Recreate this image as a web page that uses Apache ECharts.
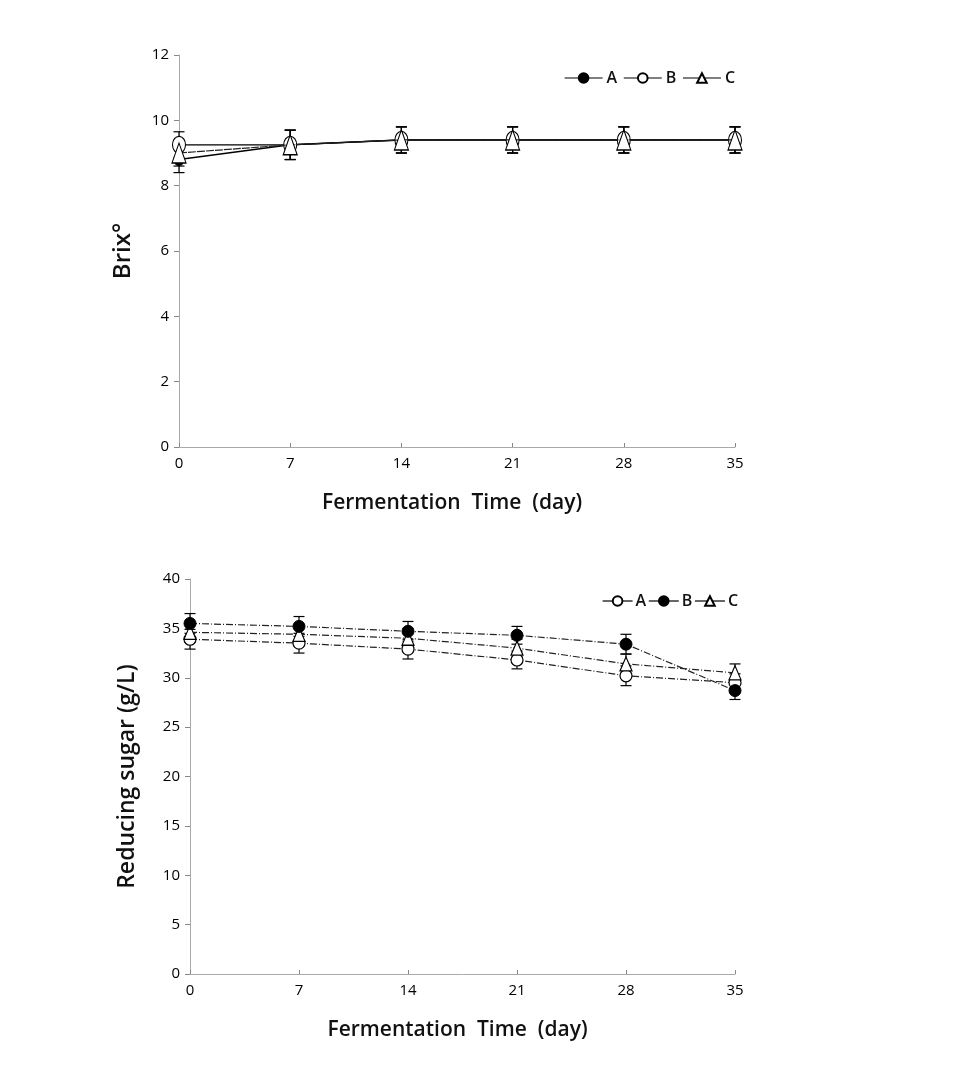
<!DOCTYPE html>
<html><head><meta charset="utf-8">
<script src="https://cdn.jsdelivr.net/npm/echarts@6/dist/echarts.min.js"></script>
<style>html,body{margin:0;padding:0;background:#fff;}#c1,#c2{position:absolute;left:0;width:960px;height:539px;}#c1{top:0}#c2{top:539px}</style>
</head><body><div id="c1"></div><div id="c2"></div>
<script>
const days = [0, 7, 14, 21, 28, 35];
const xTicks = [0, 7, 14, 21, 28, 35];
// Brix chart
const brixA = [8.8, 9.25, 9.4, 9.4, 9.4, 9.4];
const brixB = [9.25, 9.25, 9.4, 9.4, 9.4, 9.4];
const brixC = [9.0, 9.25, 9.4, 9.4, 9.4, 9.4];
const brixErr = [0.4, 0.45, 0.4, 0.4, 0.4, 0.4];
// Reducing sugar chart
const sugarA = [33.9, 33.5, 32.9, 31.8, 30.2, 29.5];
const sugarB = [35.5, 35.2, 34.7, 34.3, 33.4, 28.7];
const sugarC = [34.6, 34.4, 34.0, 33.0, 31.4, 30.5];
const sugarErr = [1.0, 1.0, 1.0, 0.9, 1.0, 0.9];

const FONT = '"Open Sans", "Noto Sans", sans-serif';

function pairs(vals){ return days.map((d,i)=>[d, vals[i]]); }
function errData(vals, err){ return days.map((d,i)=>[d, vals[i]-err[i], vals[i]+err[i]]); }
function errSeries(vals, err){
  return {
    type: 'custom', silent: true, z: 1,
    data: errData(vals, err),
    encode: {x: 0, y: [1, 2]},
    renderItem: function(params, api){
      const x = api.value(0);
      const lo = api.coord([x, api.value(1)]);
      const hi = api.coord([x, api.value(2)]);
      const w = 5.5;
      const st = {stroke: '#000', lineWidth: 1.2};
      return {type: 'group', children: [
        {type: 'line', shape: {x1: lo[0], y1: lo[1], x2: hi[0], y2: hi[1]}, style: st},
        {type: 'line', shape: {x1: lo[0]-w, y1: lo[1], x2: lo[0]+w, y2: lo[1]}, style: st},
        {type: 'line', shape: {x1: hi[0]-w, y1: hi[1], x2: hi[0]+w, y2: hi[1]}, style: st}
      ]};
    }
  };
}
function xAxis(){
  return {
    type: 'value', min: 0, max: 35, interval: 7,
    name: 'Fermentation  Time  (day)', nameLocation: 'middle', nameGap: 46,
    nameTextStyle: {fontFamily: FONT, fontSize: 21, fontWeight: 600, color: '#111', padding: [0, 10, 0, 0]},
    axisLine: {lineStyle: {color: '#aaa', width: 1}},
    axisTick: {inside: true, length: 4, lineStyle: {color: '#888'}},
    axisLabel: {color: '#000', fontFamily: FONT, fontSize: 15, margin: 9,
      formatter: v => xTicks.includes(v) ? String(v) : ''},
    splitLine: {show: false}
  };
}
function yAxis(name, max, interval, gap, nsize){
  return {
    type: 'value', min: 0, max: max, interval: interval,
    name: name, nameLocation: 'middle', nameGap: gap,
    nameTextStyle: {fontFamily: FONT, fontSize: nsize, fontWeight: 600, color: '#111'},
    axisLine: {show: true, lineStyle: {color: '#aaa', width: 1}},
    axisTick: {show: true, inside: false, length: 5, lineStyle: {color: '#888'}},
    axisLabel: {color: '#000', fontFamily: FONT, fontSize: 15, margin: 10},
    splitLine: {show: false}
  };
}
const filled = {color: '#000', borderColor: '#000', borderWidth: 1};
const open = {color: '#fff', borderColor: '#000', borderWidth: 1.2};
const legendText = {fontFamily: FONT, fontSize: 16, fontWeight: 600, color: '#111'};

const c1 = echarts.init(document.getElementById('c1'));
c1.setOption({
  animation: false,
  grid: {left: 179, top: 55, width: 556, height: 392},
  legend: {left: 559, top: 65, itemGap: 6, itemWidth: 38, itemHeight: 12,
    lineStyle: {type: 'solid', width: 1.2, color: '#000'},
    textStyle: Object.assign({padding: [0, 0, 0, -1]}, legendText),
    data: ['A', 'B', 'C']},
  xAxis: xAxis(),
  yAxis: yAxis('Brix°', 12, 2, 44, 24),
  series: [
    errSeries(brixB, brixErr),
    errSeries(brixA, brixErr),
    errSeries(brixC, brixErr),
    {name: 'A', type: 'line', data: pairs(brixA), symbol: 'circle', symbolSize: [10, 12],
      itemStyle: filled, lineStyle: {color: '#000', width: 1.5}, z: 3},
    {name: 'B', type: 'line', data: pairs(brixB), symbol: 'circle', symbolSize: [13, 17],
      itemStyle: open, lineStyle: {color: '#000', width: 1.2}, z: 4},
    {name: 'C', type: 'line', data: pairs(brixC), symbol: 'triangle', symbolSize: [14, 20],
      itemStyle: open, lineStyle: {color: '#222', width: 1.2, type: [8, 1]}, z: 5}
  ]
});

const c2 = echarts.init(document.getElementById('c2'));
c2.setOption({
  animation: false,
  grid: {left: 190, top: 40, width: 545, height: 395},
  legend: {left: 597, top: 49, itemGap: 2, itemWidth: 30, itemHeight: 12,
    lineStyle: {type: 'solid', width: 1.2, color: '#000'},
    textStyle: Object.assign({padding: [0, 0, 0, -2]}, legendText),
    data: ['A', 'B', 'C']},
  xAxis: xAxis(),
  yAxis: yAxis('Reducing sugar (g/L)', 40, 5, 51, 23),
  series: [
    errSeries(sugarA, sugarErr),
    errSeries(sugarB, sugarErr),
    errSeries(sugarC, sugarErr),
    {name: 'A', type: 'line', data: pairs(sugarA), symbol: 'circle', symbolSize: 12,
      itemStyle: open, lineStyle: {color: '#222', width: 1.2, type: [7, 2, 1, 2]}, z: 3},
    {name: 'B', type: 'line', data: pairs(sugarB), symbol: 'circle', symbolSize: 12,
      itemStyle: filled, lineStyle: {color: '#222', width: 1.2, type: [7, 2, 1, 2]}, z: 5},
    {name: 'C', type: 'line', data: pairs(sugarC), symbol: 'triangle', symbolSize: [12, 14],
      itemStyle: open, lineStyle: {color: '#222', width: 1.2, type: [7, 2, 1, 2]}, z: 4}
  ]
});
</script></body></html>
